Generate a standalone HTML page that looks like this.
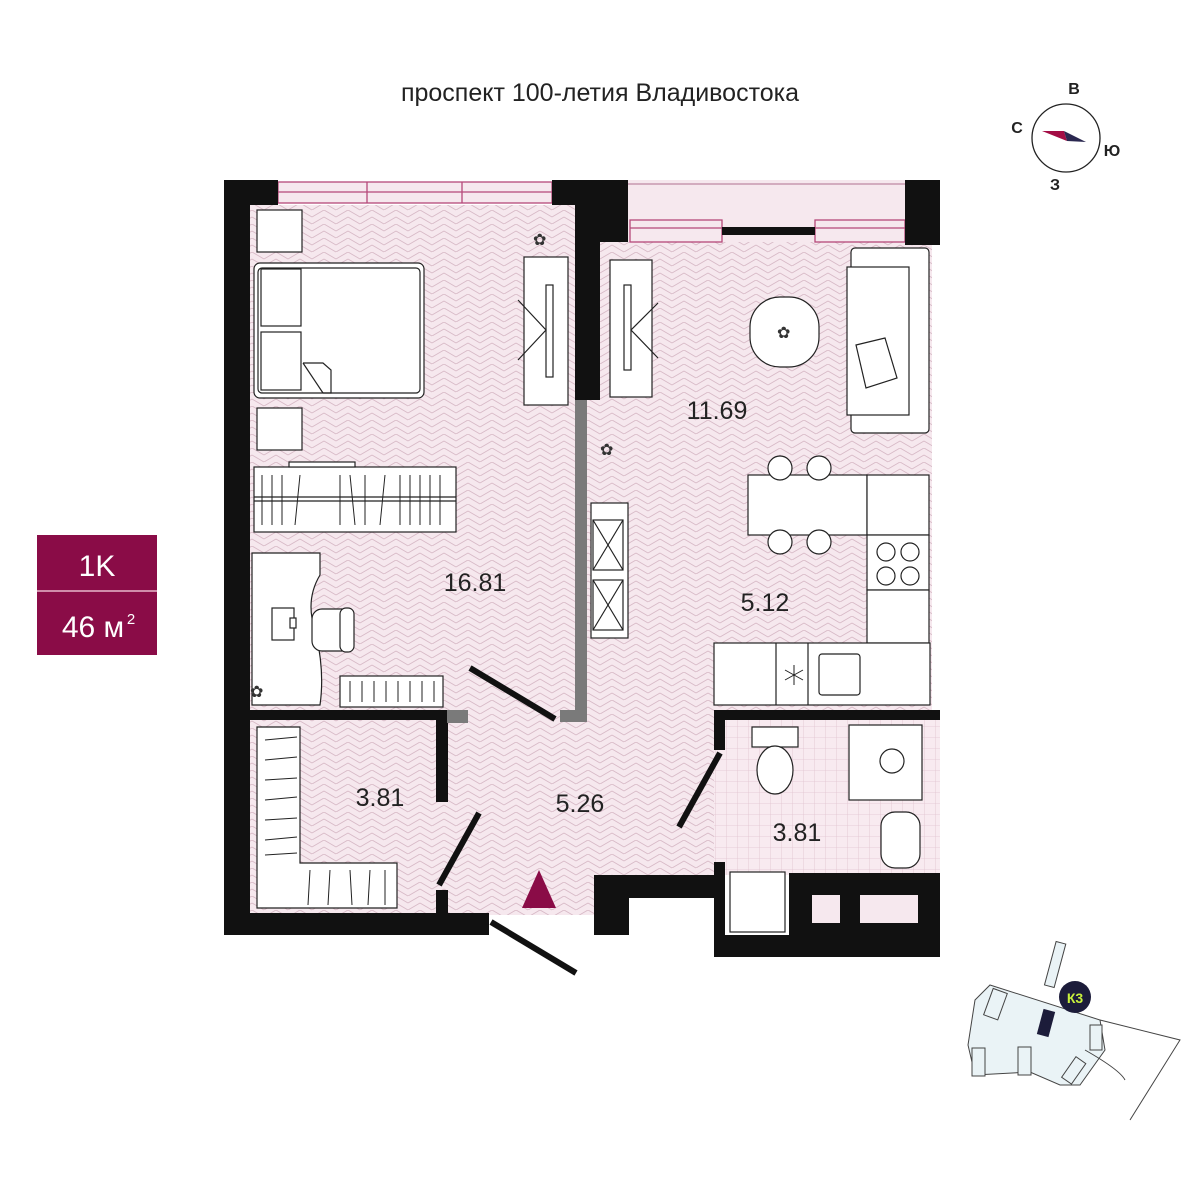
<!DOCTYPE html>
<html><head><meta charset="utf-8"><style>
html,body{margin:0;padding:0;background:#fff;}
svg{display:block;}
text{font-family:"Liberation Sans",sans-serif;}
</style></head><body>
<svg width="1200" height="1200" viewBox="0 0 1200 1200" xmlns="http://www.w3.org/2000/svg">
<defs>
<pattern id="hb" width="24" height="14" patternUnits="userSpaceOnUse">
<rect width="24" height="14" fill="#f6e8ee"/>
<path d="M0,7 L12,0 M0,14 L12,7 M12,0 L24,7 M12,7 L24,14 M-12,7 L0,14 M12,-7 L24,0" stroke="#d8bac7" stroke-width="0.9" fill="none"/>
</pattern>
<pattern id="grid" width="11" height="11" patternUnits="userSpaceOnUse">
<rect width="11" height="11" fill="#f8eaf0"/>
<path d="M0,0 H11 M0,0 V11" stroke="#e0c2cf" stroke-width="0.8"/>
</pattern>
</defs>

<text x="600" y="101" font-size="25" text-anchor="middle" fill="#222">проспект 100-летия Владивостока</text>

<!-- compass -->
<circle cx="1066" cy="138" r="34" fill="none" stroke="#222" stroke-width="1.3"/>
<polygon points="1042,131 1064,131 1067,141" fill="#a30d45"/>
<polygon points="1064,131 1086,142 1067,141" fill="#2b2850"/>
<text x="1074" y="94" font-size="16" font-weight="bold" text-anchor="middle" fill="#222">В</text>
<text x="1017" y="133" font-size="16" font-weight="bold" text-anchor="middle" fill="#222">С</text>
<text x="1112" y="156" font-size="16" font-weight="bold" text-anchor="middle" fill="#222">Ю</text>
<text x="1055" y="190" font-size="16" font-weight="bold" text-anchor="middle" fill="#222">З</text>

<!-- badge -->
<rect x="37" y="535" width="120" height="120" fill="#8a0c47"/>
<line x1="37" y1="591" x2="157" y2="591" stroke="#e7b8cb" stroke-width="1.5"/>
<text x="97" y="576" font-size="30" text-anchor="middle" fill="#fff">1K</text>
<text x="93" y="637" font-size="30" text-anchor="middle" fill="#fff">46 м</text>
<text x="131" y="624" font-size="15" text-anchor="middle" fill="#fff">2</text>

<!-- floors -->
<rect x="248" y="205" width="330" height="510" fill="url(#hb)"/>
<rect x="587" y="242" width="345" height="470" fill="url(#hb)"/>
<rect x="438" y="710" width="279" height="168" fill="url(#hb)"/>
<rect x="438" y="875" width="165" height="40" fill="url(#hb)"/>
<rect x="248" y="720" width="190" height="193" fill="url(#hb)"/>
<rect x="714" y="718" width="226" height="157" fill="url(#grid)"/>
<!-- balcony -->
<rect x="628" y="180" width="277" height="62" fill="#f6e8ee"/>
<line x1="628" y1="184" x2="905" y2="184" stroke="#b07090" stroke-width="1"/>
<!-- windows -->
<g fill="#f6e8ee" stroke="#b5497a" stroke-width="1.3">
<rect x="278" y="182" width="274" height="21"/>
<line x1="278" y1="192" x2="552" y2="192"/>
<line x1="367" y1="182" x2="367" y2="203"/><line x1="462" y1="182" x2="462" y2="203"/>
<rect x="630" y="220" width="92" height="22"/><line x1="630" y1="228" x2="722" y2="228"/>
<rect x="815" y="220" width="90" height="22"/><line x1="815" y1="228" x2="905" y2="228"/>
</g>
<rect x="722" y="227" width="93" height="8" fill="#111"/>

<!-- walls -->
<g fill="#111">
<rect x="224" y="180" width="26" height="755"/>
<rect x="224" y="180" width="54" height="25"/>
<rect x="552" y="180" width="76" height="25"/>
<rect x="575" y="205" width="53" height="37"/>
<rect x="575" y="242" width="25" height="158"/>
<rect x="905" y="180" width="35" height="65"/>
<rect x="224" y="710" width="223" height="10"/>
<rect x="436" y="720" width="12" height="82"/>
<rect x="436" y="890" width="12" height="23"/>
<rect x="224" y="913" width="265" height="22"/>
<rect x="603" y="875" width="111" height="23"/>
<rect x="594" y="875" width="35" height="60"/>
<rect x="714" y="710" width="226" height="10"/>
<rect x="714" y="710" width="11" height="40"/>
<rect x="714" y="862" width="11" height="95"/>
<rect x="714" y="935" width="226" height="22"/>
<rect x="789" y="873" width="151" height="84"/>
</g>
<rect x="812" y="895" width="28" height="28" fill="#f6e8ee"/>
<rect x="860" y="895" width="58" height="28" fill="#f6e8ee"/>
<g fill="#7a7a7a">
<rect x="575" y="400" width="12" height="322"/>
<rect x="560" y="710" width="27" height="12"/>
<rect x="447" y="710" width="21" height="13"/>
</g>

<!-- doors -->
<g stroke="#111" stroke-width="6" stroke-linecap="butt">
<line x1="470" y1="668" x2="555" y2="719"/>
<line x1="479" y1="813" x2="439" y2="885"/>
<line x1="720" y1="753" x2="679" y2="827"/>
<line x1="491" y1="922" x2="576" y2="973"/>
</g>
<polygon points="539,870 522,908 556,908" fill="#8a0c47"/>

<!-- furniture -->
<g fill="#fff" stroke="#222" stroke-width="1.2">
<rect x="257" y="210" width="45" height="42"/>
<rect x="257" y="408" width="45" height="42"/>
<rect x="254" y="263" width="170" height="135" rx="6"/>
<rect x="258" y="268" width="162" height="125" rx="4"/>
<rect x="261" y="269" width="40" height="57"/>
<rect x="261" y="332" width="40" height="58"/>
<polyline points="303,363 323,363 331,370 331,393 323,393" fill="none"/>
<line x1="303" y1="363" x2="323" y2="393"/>
<rect x="524" y="257" width="44" height="148"/>
<rect x="546" y="285" width="7" height="92"/>
<polyline points="518,300 546,330 518,360" fill="none"/>
<rect x="610" y="260" width="42" height="137"/>
<rect x="624" y="285" width="7" height="85"/>
<polyline points="658,303 631,330 658,358" fill="none"/>
<rect x="254" y="467" width="202" height="65"/>
<line x1="254" y1="497" x2="456" y2="497"/>
<line x1="254" y1="501" x2="456" y2="501"/>
<rect x="289" y="462" width="66" height="5"/>
<path d="M252,553 L320,553 L320,575 Q305,600 315,630 Q325,670 320,705 L252,705 Z"/>
<rect x="272" y="608" width="22" height="32"/>
<rect x="290" y="618" width="6" height="10"/>
<rect x="312" y="609" width="40" height="42" rx="10"/>
<rect x="340" y="608" width="14" height="44" rx="6"/>
<rect x="340" y="676" width="103" height="31"/>
<rect x="591" y="503" width="37" height="135"/>
<rect x="593" y="520" width="30" height="50"/>
<rect x="593" y="580" width="30" height="50"/>
<line x1="593" y1="520" x2="623" y2="570"/><line x1="623" y1="520" x2="593" y2="570"/>
<line x1="593" y1="580" x2="623" y2="630"/><line x1="623" y1="580" x2="593" y2="630"/>
<rect x="851" y="248" width="78" height="185" rx="4"/>
<rect x="847" y="267" width="62" height="148"/>
<polygon points="856,345 885,338 897,378 866,388"/>
<rect x="750" y="297" width="69" height="70" rx="30"/>
<rect x="748" y="475" width="119" height="60"/>
<rect x="867" y="475" width="62" height="60"/>
<rect x="867" y="535" width="62" height="55"/>
<rect x="867" y="590" width="62" height="53"/>
<circle cx="886" cy="552" r="9"/><circle cx="910" cy="552" r="9"/>
<circle cx="886" cy="576" r="9"/><circle cx="910" cy="576" r="9"/>
<rect x="714" y="643" width="216" height="62"/>
<line x1="776" y1="643" x2="776" y2="705"/><line x1="808" y1="643" x2="808" y2="705"/>
<rect x="819" y="654" width="41" height="41" rx="3"/>
<circle cx="780" cy="468" r="12"/><circle cx="819" cy="468" r="12"/>
<circle cx="780" cy="542" r="12"/><circle cx="819" cy="542" r="12"/>
<polygon points="257,727 300,727 300,863 397,863 397,908 257,908"/>
<rect x="752" y="727" width="46" height="20"/>
<ellipse cx="775" cy="770" rx="18" ry="24"/>
<rect x="849" y="725" width="73" height="75"/>
<circle cx="892" cy="761" r="12"/>
<rect x="881" y="812" width="39" height="56" rx="14"/>
<rect x="730" y="872" width="55" height="60"/>
</g>
<g stroke="#222" stroke-width="1" fill="none">
<path d="M262,475 V525 M272,475 V525 M282,475 V525 M300,475 L295,525 M340,475 V525 M350,475 L355,525 M365,475 V525 M385,475 L380,525 M400,475 V525 M410,475 V525 M420,475 V525 M430,475 V525 M440,475 V525"/>
<path d="M265,740 L297,737 M265,760 L297,757 M265,780 L297,778 M265,800 L297,797 M265,820 L297,818 M265,840 L297,837 M265,855 L297,853 M310,870 L308,905 M330,870 L328,905 M350,870 L352,905 M370,870 L368,905 M385,870 V905"/>
<path d="M350,681 V702 M362,681 V702 M374,681 V702 M386,681 V702 M398,681 V702 M410,681 V702 M422,681 V702 M434,681 V702"/>
<path d="M785,670 L803,680 M785,680 L803,670 M794,665 V685"/>
</g>
<g font-size="16" fill="#333">
<text x="533" y="245">✿</text><text x="600" y="455">✿</text><text x="777" y="338">✿</text><text x="250" y="697">✿</text>
</g>

<!-- labels -->
<g font-size="25" fill="#222" text-anchor="middle">
<text x="475" y="591">16.81</text>
<text x="717" y="419">11.69</text>
<text x="765" y="611">5.12</text>
<text x="380" y="806">3.81</text>
<text x="580" y="812">5.26</text>
<text x="797" y="841">3.81</text>
</g>

<!-- mini map -->
<g stroke="#444" stroke-width="1" fill="#eaf3f6">
<path d="M990,985 L1100,1020 L1105,1050 L1080,1085 L1060,1085 L1030,1072 L975,1075 L968,1045 L975,1000 Z" fill="#eaf3f6"/>
<path d="M1100,1020 L1180,1040 L1130,1120" fill="none"/>
<path d="M1085,1050 Q1120,1070 1125,1080" fill="none"/>
<rect x="988" y="990" width="15" height="28" transform="rotate(20 995 1004)"/>
<rect x="972" y="1048" width="13" height="28"/>
<rect x="1018" y="1047" width="13" height="28"/>
<rect x="1090" y="1025" width="12" height="25"/>
<rect x="1068" y="1058" width="12" height="25" transform="rotate(35 1074 1070)"/>
<rect x="1050" y="942" width="10" height="45" transform="rotate(15 1055 965)"/>
</g>
<rect x="1040" y="1010" width="12" height="26" fill="#1c1c3a" transform="rotate(15 1046 1023)"/>
<circle cx="1075" cy="997" r="16" fill="#1c1c3a"/>
<text x="1075" y="1003" font-size="14" font-weight="bold" text-anchor="middle" fill="#c8f03c">К3</text>
</svg>
</body></html>
